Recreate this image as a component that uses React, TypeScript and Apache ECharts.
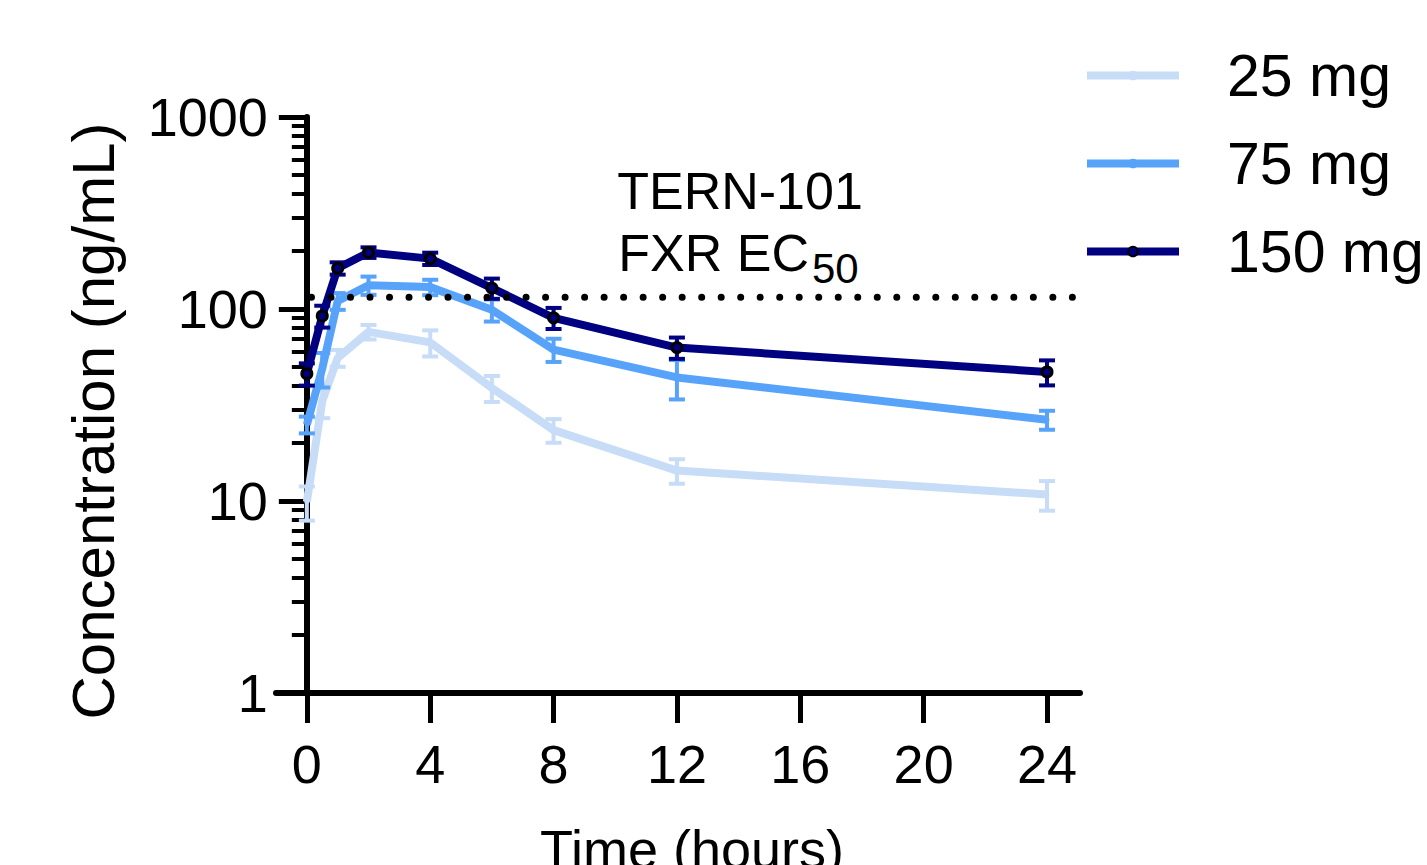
import React, { useEffect, useRef } from "react";
import * as echarts from "echarts";

// ---- data ----
const times = [0, 0.5, 1, 2, 4, 6, 8, 12, 24];
const mean25 = [9.9, 33.2, 55.6, 76, 67, 38.8, 23.4, 14.4, 10.8];
const sem25 = [2.0, 6.2, 5.6, 6.6, 10.4, 6.0, 3.3, 2.1, 1.9];
const mean75 = [25, 49, 110, 133, 130, 99, 61.5, 44, 26.5];
const sem75 = [2.5, 10, 11, 14.5, 12, 13, 8.5, 10.2, 3];
const mean150 = [46, 92, 163, 197, 183, 128.5, 90, 63, 47];
const sem150 = [6.1, 12, 12, 12.5, 13.5, 15.5, 11.3, 8, 7];
const doseNames = ["25 mg", "75 mg", "150 mg"];
const ec50Value = 115;
const ec50Span = [0.15, 25.07];
const xTickValues = [0, 4, 8, 12, 16, 20, 24];
const yMajorTicks = [1, 10, 100, 1000];
const yMinorTicks = [2, 3, 4, 5, 6, 7, 8, 9, 20, 30, 40, 50, 60, 70, 80, 90, 200, 300, 400, 500, 600, 700, 800, 900];

const FONT = "'Liberation Sans', Arial, Helvetica, sans-serif";
const colors = ["#C7DCF7", "#58A3FA", "#000080"];

const X_MIN = -1;
const X_MAX = 25.07;
const GRID_LEFT = 276;
const GRID_WIDTH = 804;
const GRID_TOP = 117;
const GRID_HEIGHT = 576;
const Y_OFFSET = -((0 - X_MIN) * GRID_WIDTH) / (X_MAX - X_MIN);

function pairs(xs: number[], ys: number[]) {
  return xs.map((x, i) => [x, ys[i]]);
}
function errData(xs: number[], m: number[], s: number[]) {
  return xs.map((x, i) => [x, m[i] - s[i], m[i] + s[i]]);
}

function errRender(color: string) {
  return (params: any, api: any) => {
    const x = api.value(0);
    const lo = api.value(1);
    const hi = api.value(2);
    const pLo = api.coord([x, lo]);
    const pHi = api.coord([x, hi]);
    const w = 8;
    const style = { stroke: color, lineWidth: 4 };
    return {
      type: "group",
      children: [
        { type: "line", shape: { x1: pLo[0], y1: pLo[1], x2: pHi[0], y2: pHi[1] }, style },
        { type: "line", shape: { x1: pLo[0] - w, y1: pLo[1], x2: pLo[0] + w, y2: pLo[1] }, style },
        { type: "line", shape: { x1: pHi[0] - w, y1: pHi[1], x2: pHi[0] + w, y2: pHi[1] }, style },
      ],
    };
  };
}

export default function App() {
  const ref = useRef<HTMLDivElement>(null);

  useEffect(() => {
    if (!ref.current) return;
    const chart = echarts.init(ref.current, null, { renderer: "svg" });
    const means = [mean25, mean75, mean150];
    const sems = [sem25, sem75, sem150];

    const lineSeries: any[] = doseNames.map((name, i) => ({
      name,
      type: "line",
      xAxisIndex: 0,
      yAxisIndex: 0,
      data: pairs(times, means[i]),
      z: 2 + i,
      symbol: "circle",
      symbolSize: i === 2 ? 10 : 5,
      showSymbol: true,
      lineStyle: { color: colors[i], width: 8, join: "round" },
      itemStyle:
        i === 2
          ? { color: colors[i], borderColor: "#000", borderWidth: 3 }
          : { color: colors[i], borderWidth: 0 },
      emphasis: { disabled: true },
    }));

    const errSeries: any[] = doseNames.map((name, i) => ({
      name: name + " SEM",
      type: "custom",
      xAxisIndex: 0,
      yAxisIndex: 0,
      data: errData(times, means[i], sems[i]),
      encode: { x: 0, y: [1, 2] },
      renderItem: errRender(colors[i]),
      z: 2 + i,
      silent: true,
    }));

    const option: any = {
      animation: false,
      backgroundColor: "#ffffff",
      grid: {
        left: GRID_LEFT,
        top: GRID_TOP,
        width: GRID_WIDTH,
        height: GRID_HEIGHT,
        containLabel: false,
        outerBoundsMode: "none",
      },
      legend: {
        data: doseNames,
        orient: "vertical",
        left: 1083,
        top: 46,
        padding: 0,
        itemWidth: 92,
        itemHeight: 12,
        itemGap: 29,
        selectedMode: false,
        lineStyle: { width: 8 },
        textStyle: {
          fontFamily: FONT,
          fontSize: 59,
          color: "#000",
          padding: [0, 0, 0, 43],
        },
      },
      xAxis: {
        type: "value",
        min: X_MIN,
        max: X_MAX,
        name: "Time (hours)",
        nameLocation: "middle",
        nameGap: 129,
        nameTextStyle: {
          fontFamily: FONT,
          fontSize: 54,
          color: "#000",
          padding: [0, 0, 0, 28],
        },
        axisLine: { onZero: false, lineStyle: { color: "#000", width: 6 } },
        axisTick: {
          show: true,
          length: 30,
          customValues: xTickValues,
          lineStyle: { color: "#000", width: 5 },
        },
        axisLabel: {
          customValues: xTickValues,
          margin: 44,
          fontFamily: FONT,
          fontSize: 54,
          color: "#000",
        },
        splitLine: { show: false },
      },
      yAxis: [
        {
          type: "log",
          logBase: 10,
          min: 1,
          max: 1000,
          position: "left",
          offset: Y_OFFSET,
          name: "Concentration (ng/mL)",
          nameLocation: "middle",
          nameGap: 183,
          nameTextStyle: {
            fontFamily: FONT,
            fontSize: 60,
            color: "#000",
            padding: [0, 32, 0, 0],
          },
          axisLine: { show: true, onZero: false, lineStyle: { color: "#000", width: 6 } },
          axisTick: {
            show: true,
            length: 28,
            customValues: yMajorTicks,
            lineStyle: { color: "#000", width: 5 },
          },
          axisLabel: {
            customValues: yMajorTicks,
            formatter: (v: number) => String(Math.round(v)),
            margin: 39,
            fontFamily: FONT,
            fontSize: 54,
            color: "#000",
          },
          splitLine: { show: false },
        },
        {
          type: "log",
          logBase: 10,
          min: 1,
          max: 1000,
          position: "left",
          offset: Y_OFFSET,
          axisLine: { show: false, onZero: false },
          axisTick: {
            show: true,
            length: 15,
            customValues: yMinorTicks,
            lineStyle: { color: "#000", width: 4 },
          },
          axisLabel: { show: false },
          splitLine: { show: false },
        },
      ],
      graphic: [
        {
          type: "text",
          x: 740,
          y: 191,
          style: {
            text: "TERN-101",
            fontFamily: FONT,
            fontSize: 52,
            fill: "#000",
            textAlign: "center",
            textVerticalAlign: "middle",
          },
        },
        {
          type: "text",
          x: 809,
          y: 253,
          style: {
            text: "FXR EC",
            fontFamily: FONT,
            fontSize: 52,
            fill: "#000",
            textAlign: "right",
            textVerticalAlign: "middle",
          },
        },
        {
          type: "text",
          x: 812,
          y: 268,
          style: {
            text: "50",
            fontFamily: FONT,
            fontSize: 42,
            fill: "#000",
            textAlign: "left",
            textVerticalAlign: "middle",
          },
        },
      ],
      series: [
        ...lineSeries,
        ...errSeries,
        {
          name: "FXR EC50",
          type: "line",
          xAxisIndex: 0,
          yAxisIndex: 0,
          data: ec50Span.map((x) => [x, ec50Value]),
          symbol: "none",
          silent: true,
          z: 10,
          lineStyle: { color: "#000", width: 7, type: [0.01, 19.5], cap: "round" },
        },
      ],
    };

    chart.setOption(option);
    return () => chart.dispose();
  }, []);

  return (
    <div
      ref={ref}
      style={{ position: "fixed", left: 0, top: 0, width: 1427, height: 865, background: "#fff" }}
    />
  );
}
